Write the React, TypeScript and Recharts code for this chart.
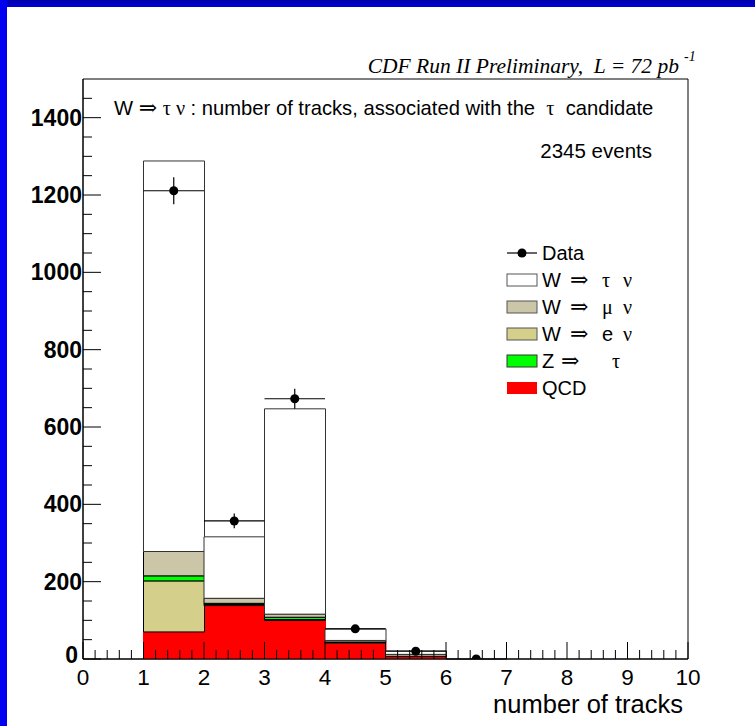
import React from 'react';
import { ComposedChart, Bar, XAxis, YAxis, Scatter, ErrorBar, ReferenceArea } from 'recharts';

// ---- data ----
const binLabels = ['0-1', '1-2', '2-3', '3-4', '4-5', '5-6', '6-7', '7-8', '8-9', '9-10'];
const qcd = [0, 70, 138, 100, 41, 6, 0, 0, 0, 0];
const wENu = [0, 132, 3, 2, 2, 1, 0, 0, 0, 0];
const zTauTau = [0, 13, 3, 6, 1, 0, 0, 0, 0, 0];
const wMuNu = [0, 63, 13, 8, 4, 5, 0, 0, 0, 0];
const wTauNu = [0, 1010, 159, 531, 30, 9, 0, 0, 0, 0];

const dataX = [1.5, 2.5, 3.5, 4.5, 5.5, 6.5];
const dataY = [1211, 357, 673, 78, 20, 0];
const dataErrY = [35, 19, 26, 9, 4.5, 0];
const dataErrX = [0.5, 0.5, 0.5, 0.5, 0.5, 0.5];

const xMajorTicks = [0, 1, 2, 3, 4, 5, 6, 7, 8, 9, 10];
const yMajorTicks = [0, 200, 400, 600, 800, 1000, 1200, 1400];
const xMinorPerMajor = 5;
const yMinorPerMajor = 4;

const titleText = 'number of tracks, associated with the';
const eventsText = '2345 events';
const xAxisTitle = 'number of tracks';

// ---- derived tables ----
const barData = binLabels.map((b, i) => ({
  bin: b,
  qcd: qcd[i],
  wen: wENu[i],
  ztt: zTauTau[i],
  wmn: wMuNu[i],
  wtn: wTauNu[i],
}));
const pointData = dataX.map((x, i) => ({ x, y: dataY[i], ey: dataErrY[i], ex: dataErrX[i] }));

const xTicks: number[] = [];
for (let i = 0; i < xMajorTicks.length - 1; i++) {
  const a = xMajorTicks[i], b = xMajorTicks[i + 1];
  for (let k = 0; k < xMinorPerMajor; k++) xTicks.push(+(a + ((b - a) * k) / xMinorPerMajor).toFixed(4));
}
xTicks.push(xMajorTicks[xMajorTicks.length - 1]);
const yTicks: number[] = [];
for (let i = 0; i < yMajorTicks.length - 1; i++) {
  const a = yMajorTicks[i], b = yMajorTicks[i + 1];
  for (let k = 0; k < yMinorPerMajor; k++) yTicks.push(a + ((b - a) * k) / yMinorPerMajor);
}
yTicks.push(1400, 1450);

const SANS = "'Liberation Sans', Arial, Helvetica, sans-serif";
const SERIF = "'Liberation Serif', 'DejaVu Serif', 'Times New Roman', serif";
const SYM = "'DejaVu Serif', 'Liberation Serif', serif";

const renderXTick = (props: any) => {
  const { x, y, payload } = props;
  const v = payload.value as number;
  const major = xMajorTicks.some((m) => Math.abs(m - v) < 1e-6);
  return (
    <g key={`xt-${v}`}>
      <line x1={x} x2={x} y1={y} y2={y - (major ? 17 : 9)} stroke="#000" strokeWidth={1} />
      {major && (
        <text x={x} y={y + 26} textAnchor="middle" fontFamily={SANS} fontSize={22.5} fill="#000">
          {Math.round(v)}
        </text>
      )}
    </g>
  );
};

const renderYTick = (props: any) => {
  const { x, y, payload } = props;
  const v = payload.value as number;
  const major = yMajorTicks.includes(v);
  const isZero = v === 0;
  return (
    <g key={`yt-${v}`}>
      <line x1={x} x2={x + (major ? 18 : 9)} y1={y} y2={y} stroke="#000" strokeWidth={1} />
      {major && (
        <text
          x={x - (isZero ? 5 : 1)}
          y={y + (isZero ? 4 : 8)}
          textAnchor="end"
          fontFamily={SANS}
          fontWeight="bold"
          fontSize={23}
          fill="#000"
        >
          {v}
        </text>
      )}
    </g>
  );
};

const legendRows = [
  { label: ['W', '⇒', 'τ', 'ν'], fill: '#ffffff', stroke: '#555' },
  { label: ['W', '⇒', 'μ', 'ν'], fill: '#ccc6a9', stroke: '#555' },
  { label: ['W', '⇒', 'e', 'ν'], fill: '#d4cf8a', stroke: '#555' },
  { label: ['Z', '⇒', '', 'τ'], fill: '#00ff00', stroke: '#333' },
  { label: ['QCD'], fill: '#ff0000', stroke: 'none' },
];

export default function App() {
  return (
    <div style={{ position: 'absolute', left: 0, top: 0, width: 755, height: 726, background: '#fff', overflow: 'hidden' }}>
      <div style={{ position: 'absolute', left: 0, top: 0, width: 755, height: 7, background: 'linear-gradient(#0000a8, #0000d8)' }} />
      <div style={{ position: 'absolute', left: 0, top: 0, width: 7, height: 726, background: '#0000f0' }} />
      <div style={{ position: 'absolute', left: 0, top: 0 }}>
        <ComposedChart
          width={755}
          height={726}
          data={barData}
          margin={{ top: 79, right: 67, bottom: 27, left: 23 }}
          barCategoryGap={0}
          barGap={0}
        >
          <XAxis xAxisId="cat" dataKey="bin" type="category" orientation="top" height={0} hide />
          <XAxis
            xAxisId="num"
            dataKey="x"
            type="number"
            domain={[0, 10]}
            ticks={xTicks}
            interval={0}
            height={40}
            tickSize={0}
            tickMargin={0}
            tickLine={false}
            axisLine={{ stroke: '#000' }}
            tick={renderXTick}
            allowDataOverflow
          />
          <YAxis
            type="number"
            domain={[0, 1500]}
            ticks={yTicks}
            interval={0}
            width={60}
            tickSize={0}
            tickMargin={0}
            tickLine={false}
            axisLine={{ stroke: '#000' }}
            tick={renderYTick}
            allowDataOverflow
          />
          <Bar xAxisId="cat" dataKey="qcd" stackId="s" fill="#ff0000" stroke="#ff0000" isAnimationActive={false} />
          <Bar xAxisId="cat" dataKey="wen" stackId="s" fill="#d4cf8a" stroke="#000" strokeWidth={1} isAnimationActive={false} />
          <Bar xAxisId="cat" dataKey="ztt" stackId="s" fill="#00ff00" stroke="#000" strokeWidth={1} isAnimationActive={false} />
          <Bar xAxisId="cat" dataKey="wmn" stackId="s" fill="#ccc6a9" stroke="#000" strokeWidth={1} isAnimationActive={false} />
          <Bar xAxisId="cat" dataKey="wtn" stackId="s" fill="#ffffff" stroke="#333" strokeWidth={1} isAnimationActive={false} />
          <ReferenceArea xAxisId="num" x1={0} x2={10} y1={0} y2={1500} fill="none" stroke="#000" strokeWidth={1} />
          <Scatter xAxisId="num" data={pointData} dataKey="y" fill="#000" isAnimationActive={false}>
            <ErrorBar dataKey="ey" direction="y" width={0} stroke="#000" strokeWidth={1.2} />
            <ErrorBar dataKey="ex" direction="x" width={0} stroke="#000" strokeWidth={1.2} />
          </Scatter>
        </ComposedChart>
      </div>
      <svg width={755} height={726} style={{ position: 'absolute', left: 0, top: 0, pointerEvents: 'none' }}>
        <text x={679} y={73} textAnchor="end" fontFamily={SERIF} fontStyle="italic" fontSize={21.5} fill="#000">
          CDF Run II Preliminary,{'\u00a0\u00a0'}L = 72 pb
        </text>
        <text x={684} y={61} fontFamily={SERIF} fontStyle="italic" fontSize={14} fill="#000">-1</text>

        <text x={114} y={115} fontFamily={SANS} fontSize={20.2} fill="#000">
          W <tspan fontFamily={SYM} fontSize={22}>⇒</tspan> <tspan fontFamily={SERIF}>τ ν</tspan> : {titleText}{'\u00a0'} <tspan fontFamily={SERIF}>τ</tspan>{'\u00a0'} candidate
        </text>
        <text x={652} y={158} textAnchor="end" fontFamily={SANS} fontSize={20.5} fill="#000">{eventsText}</text>

        <text x={683} y={713} textAnchor="end" fontFamily={SANS} fontSize={25.5} fill="#000">{xAxisTitle}</text>

        {/* legend */}
        <g>
          <line x1={507} x2={537} y1={253} y2={253} stroke="#000" strokeWidth={1.2} />
          <circle cx={522} cy={253} r={4.5} fill="#000" />
          <text x={542} y={260} fontFamily={SANS} fontSize={20} fill="#000">Data</text>
          {legendRows.map((r, i) => {
            const cy = 280 + i * 27;
            return (
              <g key={i}>
                <rect x={507} y={cy - 6} width={30} height={12} fill={r.fill} stroke={r.stroke} strokeWidth={1} />
                {r.label.length === 1 ? (
                  <text x={542} y={cy + 7} fontFamily={SANS} fontSize={20} fill="#000">{r.label[0]}</text>
                ) : (
                  <g>
                    <text x={542} y={cy + 7} fontFamily={SANS} fontSize={20} fill="#000">{r.label[0]}</text>
                    <text x={i === 3 ? 561 : 570} y={cy + 7} fontFamily={SYM} fontSize={22} fill="#000">{r.label[1]}</text>
                    <text x={i === 3 ? 612 : 602} y={cy + 7} fontFamily={r.label[2] === 'e' ? SANS : SERIF} fontSize={20} fill="#000">{i === 3 ? r.label[3] : r.label[2]}</text>
                    {i !== 3 && <text x={623} y={cy + 7} fontFamily={SERIF} fontSize={20} fill="#000">{r.label[3]}</text>}
                  </g>
                )}
              </g>
            );
          })}
        </g>
      </svg>
    </div>
  );
}
